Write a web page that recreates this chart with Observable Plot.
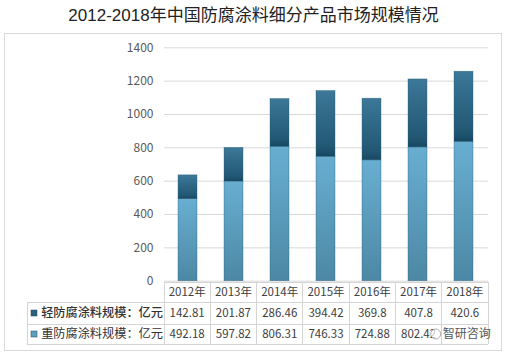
<!DOCTYPE html>
<html>
<head>
<meta charset="utf-8">
<script src="https://cdn.jsdelivr.net/npm/d3@7"></script>
<script src="https://cdn.jsdelivr.net/npm/@observablehq/plot@0.6"></script>
<style>
  html, body { margin: 0; padding: 0; background: #fff; }
  #wrap { position: relative; width: 507px; height: 356px; overflow: hidden; }
  #title { position: absolute; left: 0; top: 4px; width: 507px; text-align: center;
    font-family: "Liberation Sans", "Noto Sans CJK SC", sans-serif; font-size: 17px; color: #222; line-height: 24px; }
  #box { position: absolute; left: 4px; top: 33px; width: 498px; height: 318px;
    border: 1px solid #d9d9d9; box-sizing: border-box; }
  #chart { position: absolute; left: 0; top: 33px; }
</style>
</head>
<body>
<div id="wrap">
  <div id="title">2012-2018年中国防腐涂料细分产品市场规模情况</div>
  <div id="box"></div>
  <div id="chart"></div>
</div>
<script>
const years = ["2012年", "2013年", "2014年", "2015年", "2016年", "2017年", "2018年"];
const lightValues = [142.81, 201.87, 286.46, 394.42, 369.8, 407.8, 420.6];
const heavyValues = [492.18, 597.82, 806.31, 746.33, 724.88, 802.42, 836];
const lightLabels = ["142.81", "201.87", "286.46", "394.42", "369.8", "407.8", "420.6"];
const heavyLabels = ["492.18", "597.82", "806.31", "746.33", "724.88", "802.42", ""];
const seriesNames = ["轻防腐涂料规模：亿元", "重防腐涂料规模：亿元"];
const yTicks = [0, 200, 400, 600, 800, 1000, 1200, 1400];
const watermark = "智研咨询";

const data = [];
years.forEach((yr, i) => {
  data.push({year: yr, series: "heavy", value: heavyValues[i]});
  data.push({year: yr, series: "light", value: lightValues[i]});
});

const W = 507, H = 323;
const mL = 164, mR = 19, mT = 14.3, mB = 75.3;

function defs() {
  const svg = d3.create("svg:defs");
  const g1 = svg.append("linearGradient").attr("id", "gHeavy").attr("x1", 0).attr("y1", 0).attr("x2", 0).attr("y2", 1);
  g1.append("stop").attr("offset", "0%").attr("stop-color", "#68aed1");
  g1.append("stop").attr("offset", "100%").attr("stop-color", "#4c88a5");
  const g2 = svg.append("linearGradient").attr("id", "gLight").attr("x1", 0).attr("y1", 0).attr("x2", 0).attr("y2", 1);
  g2.append("stop").attr("offset", "0%").attr("stop-color", "#3c7899");
  g2.append("stop").attr("offset", "85%").attr("stop-color", "#225874");
  g2.append("stop").attr("offset", "100%").attr("stop-color", "#174862");
  return svg.node();
}

function table(index, scales, values, dims) {
  const g = d3.create("svg:g");
  const n = years.length;
  const left = dims.marginLeft, right = dims.width - dims.marginRight;
  const step = (right - left) / n;
  const y0 = dims.height - dims.marginBottom;
  const rowTop = [y0 + 1.3, y0 + 21.3, y0 + 43.3, y0 + 63.3];
  const stroke = "#d4d4d4";
  const line = (x1, y1, x2, y2) => g.append("line").attr("x1", x1).attr("y1", y1).attr("x2", x2).attr("y2", y2)
    .attr("stroke", stroke).attr("stroke-width", 1).attr("shape-rendering", "crispEdges");
  const legLeft = 27;
  line(left, rowTop[0], right, rowTop[0]);
  line(legLeft, rowTop[1], right, rowTop[1]);
  line(legLeft, rowTop[2], right, rowTop[2]);
  line(legLeft, rowTop[3], right, rowTop[3]);
  for (let i = 0; i <= n; i++) line(left + i * step, rowTop[0], left + i * step, rowTop[3]);
  line(legLeft, rowTop[1], legLeft, rowTop[3]);
  const font = "'Noto Sans CJK SC', sans-serif";
  const mid = r => (rowTop[r] + rowTop[r + 1]) / 2;
  const rows = [years, lightLabels, heavyLabels];
  rows.forEach((arr, r) => {
    arr.forEach((t, i) => {
      g.append("text").attr("x", scales.x(years[i]) + scales.x.bandwidth / 2 || left + (i + 0.5) * step)
        .attr("y", mid(r)).attr("dy", "0.35em").attr("text-anchor", "middle")
        .attr("font-family", font).attr("font-size", 11.5).attr("fill", "#404040").text(t);
    });
  });
  const sq = ["#2c617e", "#5c9fc0"];
  seriesNames.forEach((s, k) => {
    g.append("rect").attr("x", 31).attr("y", mid(k + 1) - 3).attr("width", 6).attr("height", 6)
      .attr("fill", sq[k]).attr("stroke", "#1f4a60").attr("stroke-width", 0.5);
    g.append("text").attr("x", left - 1).attr("y", mid(k + 1)).attr("dy", "0.35em").attr("text-anchor", "end")
      .attr("font-family", font).attr("font-size", 12.2).attr("fill", "#333")
      .attr("font-weight", k === 0 ? 500 : 400).text(s);
  });
  // watermark
  const wy = mid(2);
  g.append("circle").attr("cx", left + 6 * step - 6).attr("cy", wy).attr("r", 5)
    .attr("fill", "rgba(255,255,255,0.7)").attr("stroke", "#999").attr("stroke-width", 0.8);
  g.append("text").attr("x", left + 6.5 * step + 2).attr("y", wy).attr("dy", "0.35em").attr("text-anchor", "middle")
    .attr("font-family", font).attr("font-size", 12).attr("fill", "#555").text(watermark);
  return g.node();
}

const chart = Plot.plot({
  width: W,
  height: H,
  marginLeft: mL,
  marginRight: mR,
  marginTop: mT,
  marginBottom: mB,
  x: {domain: years, paddingInner: 0.585, paddingOuter: 0.2925, axis: null},
  y: {domain: [0, 1400], axis: null},
  color: {domain: ["heavy", "light"], range: ["url(#gHeavy)", "url(#gLight)"], legend: false},
  style: {fontFamily: "'Noto Sans CJK SC', sans-serif", background: "transparent", overflow: "visible"},
  marks: [
    defs,
    Plot.ruleY(yTicks, {stroke: "#d9d9d9", strokeWidth: 1}),
    Plot.axisY(yTicks, {tickSize: 0, tickPadding: 11, fontSize: 12, color: "#595959", fill: "#595959", label: null, tickFormat: d => String(d)}),
    Plot.barY(data, Plot.stackY({x: "year", y: "value", fill: "series", order: ["heavy", "light"],
      stroke: "#2a5a74", strokeWidth: 0.6, strokeOpacity: 0.6})),
    table
  ]
});
document.getElementById("chart").appendChild(chart);
</script>
</body>
</html>
